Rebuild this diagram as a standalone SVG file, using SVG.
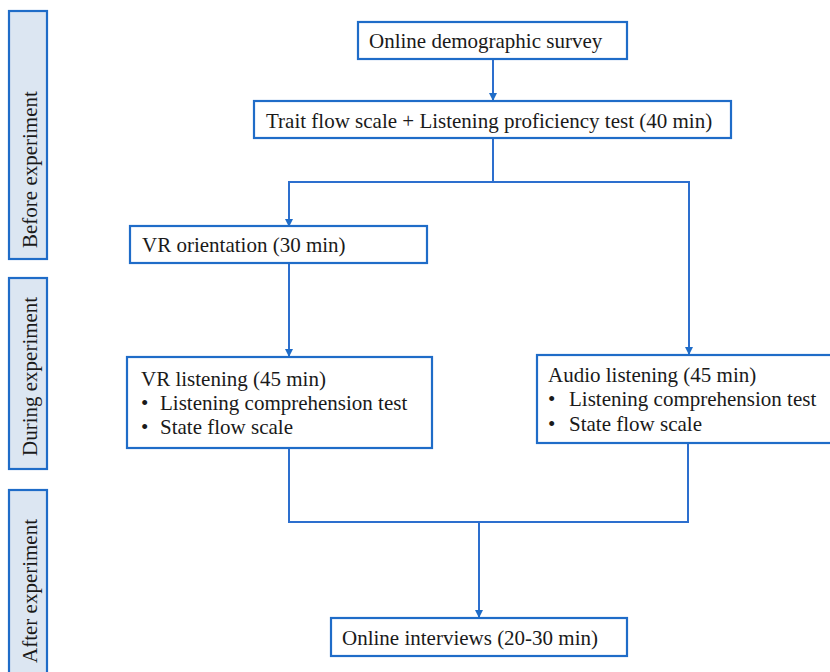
<svg xmlns="http://www.w3.org/2000/svg" width="830" height="672" viewBox="0 0 830 672">
<style>
.box{fill:#ffffff;stroke:#1f6cc8;stroke-width:2.2}
.side{fill:#dce6f2;stroke:#1f6cc8;stroke-width:2.2}
.t{font-family:"Liberation Serif","Times New Roman",serif;font-size:21px;fill:#1a1a1a}
.c{fill:none;stroke:#2d6fce;stroke-width:2}
</style>
<defs>
<marker id="ah" markerWidth="8" markerHeight="8" refX="7" refY="4" orient="auto" markerUnits="userSpaceOnUse">
<path d="M0,0 L8,4 L0,8 Z" fill="#1f6cc8"/>
</marker>
</defs>
<rect width="830" height="672" fill="#ffffff"/>
<g id="phase-before">
<rect class="side" x="9" y="11" width="38" height="248"/>
<text class="t" transform="translate(36.5,248) rotate(-90)">Before experiment</text>
</g>
<g id="phase-during">
<rect class="side" x="9" y="278" width="38" height="191"/>
<text class="t" transform="translate(36.5,456) rotate(-90)">During experiment</text>
</g>
<g id="phase-after">
<rect class="side" x="9" y="490" width="38" height="200"/>
<text class="t" transform="translate(36.5,663) rotate(-90)">After experiment</text>
</g>
<g id="connectors">
<line class="c" x1="493" y1="59" x2="493" y2="100" marker-end="url(#ah)"/>
<polyline class="c" points="493,138 493,182 289,182 289,226" marker-end="url(#ah)"/>
<polyline class="c" points="493,182 689,182 689,354" marker-end="url(#ah)"/>
<line class="c" x1="289" y1="263" x2="289" y2="356" marker-end="url(#ah)"/>
<polyline class="c" points="289,448 289,522 688,522 688,443"/>
<line class="c" x1="479" y1="522" x2="479" y2="617" marker-end="url(#ah)"/>
</g>
<g id="survey">
<rect class="box" x="358" y="22" width="269" height="37"/>
<text class="t" x="369" y="48">Online demographic survey</text>
</g>
<g id="trait">
<rect class="box" x="254" y="101" width="477" height="37"/>
<text class="t" x="266" y="128">Trait flow scale + Listening proficiency test (40 min)</text>
</g>
<g id="vr-orientation">
<rect class="box" x="130" y="226" width="297" height="37"/>
<text class="t" x="142" y="252">VR orientation (30 min)</text>
</g>
<g id="vr-listening">
<rect class="box" x="127" y="357" width="305" height="91"/>
<text class="t" x="141" y="386">VR listening (45 min)</text>
<text class="t" x="141" y="410">•</text>
<text class="t" x="160" y="410">Listening comprehension test</text>
<text class="t" x="141" y="434">•</text>
<text class="t" x="160" y="434">State flow scale</text>
</g>
<g id="audio-listening">
<rect class="box" x="537" y="355" width="300" height="88"/>
<text class="t" x="548" y="382">Audio listening (45 min)</text>
<text class="t" x="548" y="406">•</text>
<text class="t" x="569" y="406">Listening comprehension test</text>
<text class="t" x="548" y="431">•</text>
<text class="t" x="569" y="431">State flow scale</text>
</g>
<g id="interviews">
<rect class="box" x="331" y="618" width="296" height="38"/>
<text class="t" x="342" y="645">Online interviews (20-30 min)</text>
</g>
</svg>
